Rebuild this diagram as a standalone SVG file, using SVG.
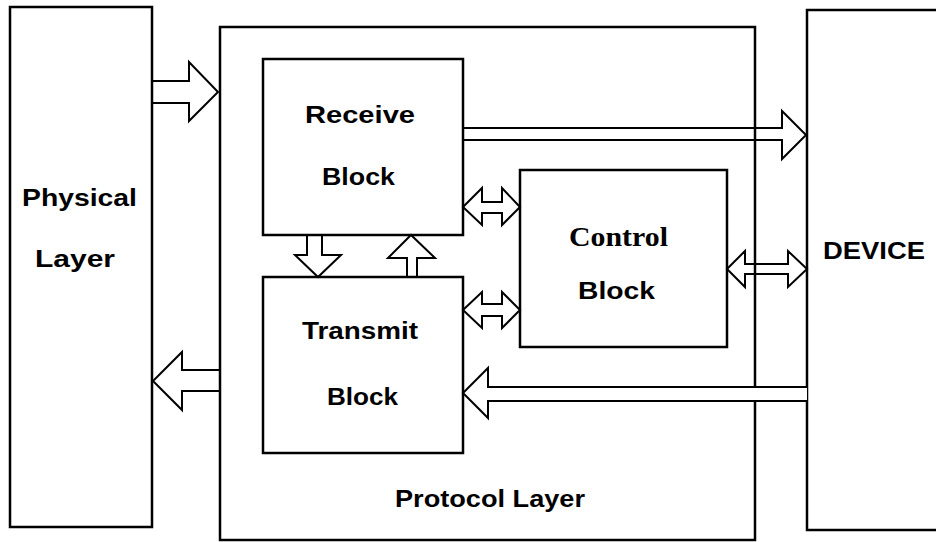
<svg xmlns="http://www.w3.org/2000/svg" width="936" height="542" viewBox="0 0 936 542">
<style>
.box{fill:none;stroke:#000;stroke-width:2.5}
.arr{fill:none;stroke:#000;stroke-width:2;stroke-linejoin:miter}
.arrw{fill:#fff;stroke:#000;stroke-width:2;stroke-linejoin:miter}
.t{font-family:"Liberation Sans",Arial,sans-serif;font-weight:bold;font-size:23px;fill:#000}
.s{font-family:"Liberation Serif","Times New Roman",serif;font-weight:bold;font-size:27px;fill:#000}
</style>
<rect width="936" height="542" fill="#fff"/>
<g id="physical">
<rect class="box" x="10" y="7" width="142" height="520"/>
<text class="t" x="22" y="206" textLength="115" lengthAdjust="spacingAndGlyphs">Physical</text>
<text class="t" x="35" y="267" textLength="80" lengthAdjust="spacingAndGlyphs">Layer</text>
</g>
<g id="protocol">
<rect class="box" x="220" y="27" width="535" height="513"/>
<text class="t" x="395" y="507" textLength="190" lengthAdjust="spacingAndGlyphs">Protocol Layer</text>
</g>
<g id="receive">
<rect class="box" x="263" y="59" width="200" height="176"/>
<text class="t" x="305" y="123" textLength="110" lengthAdjust="spacingAndGlyphs">Receive</text>
<text class="t" x="322" y="185" textLength="73" lengthAdjust="spacingAndGlyphs">Block</text>
</g>
<g id="transmit">
<rect class="box" x="263" y="277" width="200" height="176"/>
<text class="t" x="302" y="339" textLength="116" lengthAdjust="spacingAndGlyphs">Transmit</text>
<text class="t" x="327" y="405" textLength="71" lengthAdjust="spacingAndGlyphs">Block</text>
</g>
<g id="control">
<rect class="box" x="520" y="170" width="207" height="177"/>
<text class="s" x="569" y="246" textLength="99" lengthAdjust="spacingAndGlyphs">Control</text>
<text class="t" x="578" y="299" textLength="77" lengthAdjust="spacingAndGlyphs">Block</text>
</g>
<g id="device">
<rect class="box" x="807" y="10" width="200" height="520"/>
<text class="t" x="823" y="259" textLength="102" lengthAdjust="spacingAndGlyphs">DEVICE</text>
</g>
<g id="connectors">
<path class="arr" d="M152,81 H189 V62 L218,92 L189,121 V103 H152"/>
<path class="arr" d="M220,370 H182 V352 L153,381 L182,410 V391 H220"/>
<path class="arr" d="M463,128 H782 V111 L806,135 L782,159 V140 H463"/>
<path class="arrw" d="M807,387 H488 V368 L463,393 L488,418 V401 H807"/>
<path class="arr" d="M463,207 L482,188 V202 H502 V188 L520,207 L502,225 V213 H482 V225 Z"/>
<path class="arr" d="M463,310 L482,292 V304 H502 V292 L520,310 L502,328 V316 H482 V328 Z"/>
<path class="arr" d="M727,269 L745,251 V264 H788 V251 L807,269 L788,287 V274 H745 V287 Z"/>
<path class="arr" d="M307,235 V255 H295 L318,277 L341,255 H322 V235"/>
<path class="arr" d="M407,277 V258 H388 L411,235 L435,258 H417 V277"/>
</g>
</svg>
